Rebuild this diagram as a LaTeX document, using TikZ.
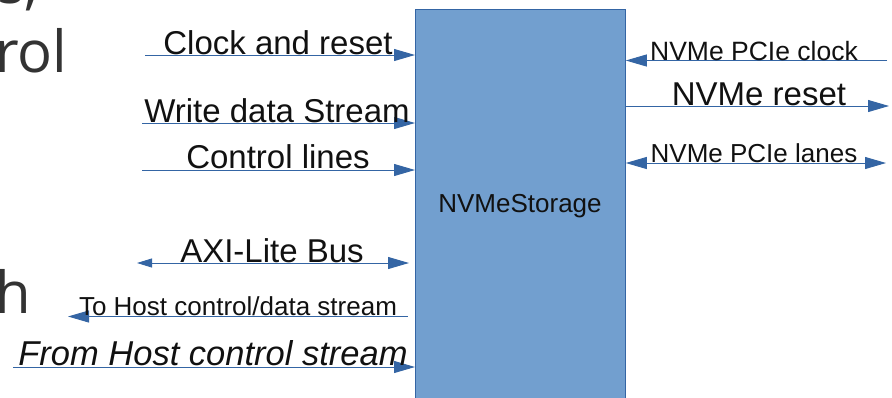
\documentclass[tikz,border=0pt]{standalone}
\usepackage{fontspec}
\setmainfont{Liberation Sans}
\newfontfamily\slidefont{Open Sans}
\usetikzlibrary{arrows.meta}

\definecolor{boxfill}{HTML}{729FCF}
\definecolor{boxline}{HTML}{3465A4}
\definecolor{wire}{HTML}{3465A4}
\definecolor{slidegray}{HTML}{333333}
\definecolor{labeltext}{HTML}{111111}

\newcommand{\fs}[1]{\fontsize{#1}{#1}\selectfont}

\tikzset{
  big tip/.tip={Triangle[length=21pt,width=12pt]},
  small tip/.tip={Triangle[length=15pt,width=9pt]},
  wire/.style={draw=wire, line width=0.9pt},
  wirelabel/.style={anchor=base, inner sep=0pt, text=labeltext},
  slidetext/.style={anchor=base west, inner sep=0pt, text=slidegray,
    font=\slidefont\fs{58}},
}

\begin{document}
\begin{tikzpicture}[x=1pt, y=-1pt]
  \useasboundingbox (0,0) rectangle (892,397);
  \clip (0,0) rectangle (892,397);
  \fill[white] (0,0) rectangle (892,397);

  % slide text running behind the diagram
  \node[slidetext] (slideA) at (-3,3) {s,};
  \node[slidetext] (slideB) at (-5,72) {rol};
  \node[slidetext] (slideC) at (-5,313) {h};

  % the storage block
  \node[draw=boxline, fill=boxfill, line width=0.8pt, minimum width=210pt,
        minimum height=420pt, anchor=north west, inner sep=0pt]
        (box) at (415,9) {};
  \node[wirelabel, font=\fs{26}] (boxname) at (520,212) {NVMeStorage};

  % host side inputs and outputs
  \coordinate (clkin)   at (145,55);
  \coordinate (wrin)    at (142,123);
  \coordinate (ctlin)   at (142,170);
  \coordinate (axiend)  at (137,263);
  \coordinate (tohost)  at (68,316.5);
  \coordinate (fromin)  at (13,367);

  \draw[wire, -big tip] (clkin) -- (clkin -| box.west);
  \draw[wire, -big tip] (wrin) -- (wrin -| box.west);
  \draw[wire, -big tip] (ctlin) -- (ctlin -| box.west);
  \draw[wire, small tip-big tip, shorten >=6pt] (axiend) -- (axiend -| box.west);
  \draw[wire, big tip-, shorten <=0pt, shorten >=7pt] (tohost) -- (tohost -| box.west);
  \draw[wire, -big tip] (fromin) -- (fromin -| box.west);

  \node[wirelabel, font=\fs{33}] (lclk) at (278,54) {Clock and reset};
  \node[wirelabel, font=\fs{33}] (lwr)  at (277,122) {Write data Stream};
  \node[wirelabel, font=\fs{33}] (lctl) at (278,168) {Control lines};
  \node[wirelabel, font=\fs{33}] (laxi) at (272,262) {AXI-Lite Bus};
  \node[wirelabel, font=\fs{26}] (lto)  at (238,315) {To Host control/data stream};
  \node[wirelabel, font=\itshape\fs{34.5}] (lfrom) at (213,365) {From Host control stream};

  % drive side
  \coordinate (pcieclk) at (887,60.5);
  \coordinate (nvrst)   at (889,106);
  \coordinate (lanes)   at (886,163);

  \draw[wire, -big tip] (pcieclk) -- (pcieclk -| box.east);
  \draw[wire, -big tip] (box.east |- nvrst) -- (nvrst);
  \draw[wire, big tip-big tip] (box.east |- lanes) -- (lanes);

  \node[wirelabel, font=\fs{26.5}] (lpclk) at (754,60) {NVMe PCIe clock};
  \node[wirelabel, font=\fs{33}] (lrst)  at (759,105) {NVMe reset};
  \node[wirelabel, font=\fs{26}] (llane) at (754,162) {NVMe PCIe lanes};
\end{tikzpicture}
\end{document}
